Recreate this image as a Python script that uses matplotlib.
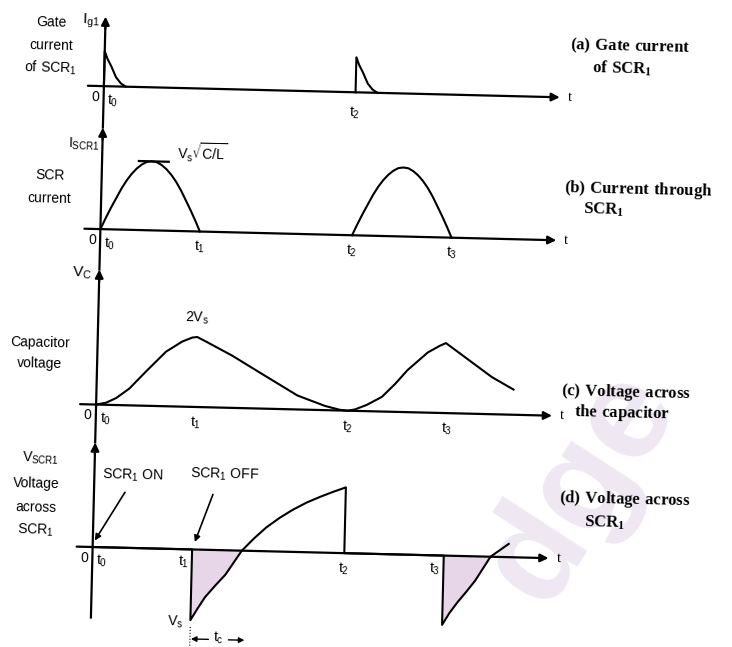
import matplotlib.pyplot as plt
from matplotlib.transforms import Affine2D

# switching instants, in units of the first conduction interval
t_marks = {'t_0': 0.0, 't_1': 1.0, 't_2': 2.53, 't_3': 3.53}

# (a) gate current: decaying pulse after each firing instant
gate_fire = [0.0, 2.53]
gate_dt = [0.0, 0.03, 0.07, 0.12, 0.17, 0.22]
gate_val = [1.0, 0.78, 0.57, 0.26, 0.09, 0.0]

# (b) SCR current: half-sine pulses (t_0..t_1 and t_2..t_3)
pulse_spans = [(0.0, 1.0), (2.53, 3.53)]
pulse_frac = [0, .05, .1, .15, .2, .25, .3, .35, .4, .45, .5,
              .55, .6, .65, .7, .75, .8, .85, .9, .95, 1.0]
pulse_val = [0, .16, .31, .45, .59, .71, .81, .89, .95, .99, 1.0,
             .99, .95, .89, .81, .71, .59, .45, .31, .16, 0]

# (c) capacitor voltage, peaks of 2Vs at t_1 and t_3
vc_t = [0, 0.1, 0.2, 0.33, 0.5, 0.69, 0.85, 0.95, 1.0, 1.1, 1.35, 1.69,
        2.02, 2.3, 2.45, 2.53, 2.6, 2.72, 2.87, 3.0, 3.12, 3.32, 3.44, 3.5,
        3.6, 3.77, 3.97, 4.19]
vc_v = [0, 0.03, 0.1, 0.24, 0.5, 0.78, 0.93, 0.99, 1.0, 0.93, 0.75, 0.47,
        0.2, 0.06, 0.01, 0, 0.02, 0.09, 0.21, 0.4, 0.6, 0.86, 0.96, 1.0,
        0.9, 0.73, 0.53, 0.36]

# (d) voltage across SCR1 (-Vs at turn-off, reverse bias lasts t_c)
vs_t = [0, 1.0, 1.0, 1.07, 1.14, 1.24, 1.34, 1.5, 1.62, 1.74, 1.87, 2.0,
        2.14, 2.28, 2.4, 2.53, 2.53, 3.53, 3.53, 3.6, 3.68, 3.77, 3.85, 4.0,
        4.18]
vs_v = [0, 0, -1.01, -0.84, -0.68, -0.51, -0.35, 0, 0.18, 0.34, 0.48, 0.6,
        0.71, 0.8, 0.87, 0.94, 0, 0, -0.99, -0.82, -0.66, -0.5, -0.35, 0,
        0.19]

# page layout (pixels), the scan is slightly tilted
X0, SX = 98, 99.5
TILT, CX, CY = 1.4, 320, 330
base = {'a': 91.5, 'b': 234.5, 'c': 410, 'd': 552.5}
top = {'a': 22, 'b': 133, 'c': 275, 'd': 448}
gain = {'a': 35, 'b': 69, 'c': 70, 'd': 70}
X_LEFT, X_TIP = 82, 554

sans = ['Liberation Sans Narrow', 'Liberation Sans', 'DejaVu Sans']
serif = ['Liberation Serif', 'DejaVu Serif']

fig = plt.figure(figsize=(7.32, 6.47), dpi=100)
ax = fig.add_axes([0, 0, 1, 1])
ax.set_xlim(0, 732)
ax.set_ylim(647, 0)
ax.axis('off')
tr = Affine2D().rotate_deg_around(CX, CY, TILT) + ax.transData


def px(t):
    return X0 + SX * t


def py(p, v):
    return base[p] - gain[p] * v


def label(x, y, s, size=10, family=sans, **kw):
    kw.setdefault('ha', 'center')
    kw.setdefault('va', 'center')
    ax.text(x, y, s, transform=tr, fontsize=size, family=family,
            rotation=-TILT, rotation_mode='anchor', **kw)


def arrow(x1, y1, x2, y2, lw=1.6, ms=12):
    ax.annotate('', xy=(x2, y2), xytext=(x1, y1), xycoords=tr, textcoords=tr,
                arrowprops=dict(arrowstyle='-|>', color='k', lw=lw,
                                mutation_scale=ms, shrinkA=0, shrinkB=0))


# faint publisher watermark
ax.text(585, 480, 'dge', transform=tr, fontsize=100, fontweight='bold',
        color='#efe8f3', rotation=57, ha='center', va='center', zorder=0,
        family=['Liberation Sans', 'DejaVu Sans'])

# axes of the four panels
order = ['a', 'b', 'c', 'd']
for i, p in enumerate(order):
    bottom = top[order[i + 1]] if i < 3 else 623
    ax.plot([px(0), px(0)], [bottom, top[p] + 10], transform=tr, color='k', lw=1.6)
    arrow(px(0), top[p] + 12, px(0), top[p])
    arrow(X_LEFT, base[p], X_TIP, base[p])
    label(X_TIP + 10, base[p], 't', size=10, family=serif)
    label(px(0) - 4, base[p] + 4, '0', ha='right', va='top')

# (a) gate pulses
for tf in gate_fire:
    xs = [px(tf + d) for d in gate_dt]
    ys = [py('a', v) for v in gate_val]
    ax.plot([xs[0]] + xs, [base['a']] + ys, transform=tr, color='k', lw=1.5)

# (b) SCR current pulses
for ta, tb in pulse_spans:
    xs = [px(ta + f * (tb - ta)) for f in pulse_frac]
    ys = [py('b', v) for v in pulse_val]
    ax.plot(xs, ys, transform=tr, color='k', lw=1.5)
ax.plot([px(0.37), px(0.67)], [py('b', 1.0)] * 2, transform=tr, color='k', lw=1.6)

# (c) capacitor voltage
ax.plot([px(t) for t in vc_t], [py('c', v) for v in vc_v], transform=tr,
        color='k', lw=1.5)

# (d) SCR voltage with shaded reverse-bias intervals
for a, b in [(2, 7), (18, 23)]:
    xs = [px(t) for t in vs_t[a:b + 1]]
    ys = [py('d', v) for v in vs_v[a:b + 1]]
    ax.fill(xs + [xs[0]], ys + [base['d']], transform=tr, color='#e6d6e8',
            lw=0, zorder=1)
ax.plot([px(t) for t in vs_t], [py('d', v) for v in vs_v], transform=tr,
        color='k', lw=1.5, zorder=3)

# time labels under each axis
M = r'$\mathregular{%s}$'
label(px(0) + 4, base['a'] + 6, M % 't_0', ha='left', va='top')
label(px(t_marks['t_2']), base['a'] + 12, M % 't_2', va='top')
label(px(0) + 4, base['b'] + 6, M % 't_0', ha='left', va='top')
for k in ['t_1', 't_2', 't_3']:
    label(px(t_marks[k]), base['b'] + 7, M % k, va='top')
label(px(0) + 4, base['c'] + 6, M % 't_0', ha='left', va='top')
for k in ['t_1', 't_2', 't_3']:
    label(px(t_marks[k]), base['c'] + 8, M % k, va='top')
label(px(0) + 4, base['d'] + 5, M % 't_0', ha='left', va='top')
label(px(t_marks['t_1']) - 3, base['d'] + 5, M % 't_1', ha='right', va='top')
label(px(t_marks['t_2']), base['d'] + 8, M % 't_2', va='top')
label(px(t_marks['t_3']) - 3, base['d'] + 5, M % 't_3', ha='right', va='top')

# left-hand quantity names
label(92, 27, M % 'I_{g1}', size=11, ha='right')
for y, s in [(29, 'Gate'), (52, 'current'), (75, M % 'of\\ SCR_1')]:
    label(44, y, s)
label(95, 150, M % 'I_{SCR1}', size=10, ha='right')
for y, s in [(182, 'SCR'), (205, 'current')]:
    label(46, y, s)
label(90, 279, M % 'V_C', size=11, ha='right')
for y, s in [(350, 'Capacitor'), (370, 'voltage')]:
    label(41, y, s)
label(62, 465, M % 'V_{SCR1}', size=10, ha='right')
for y, s in [(490, 'Voltage'), (514, 'across'), (537, M % 'SCR_1')]:
    label(40, y, s)

# annotations on the waveforms
label(198, 156, M % 'V_s\\sqrt{C/L}', size=10)
label(197, 321, M % '2V_s', size=10)
label(182, 625, M % 'V_s', size=10)
label(137, 480, M % 'SCR_1\\ ON', size=10)
arrow(129, 497, 100, 546, lw=1.2, ms=9)
label(228, 477, M % 'SCR_1\\ OFF', size=10)
arrow(217, 497, 200, 545, lw=1.2, ms=9)
ax.plot([px(1.0), px(1.0)], [630, 650], transform=tr, color='k', lw=0.8, ls=':')
arrow(216, 642, px(1.0) + 1, 642, lw=1.0, ms=8)
arrow(236, 642, 252, 642, lw=1.0, ms=8)
label(226, 640, M % 't_c', size=10)

# captions on the right
cap = dict(size=12, family=serif, fontweight='bold', ha='left')
label(563, 39, M % '(a)\\ Gate\\ current', **cap)
label(586, 61, M % 'of\\ SCR_1', **cap)
label(561, 182, M % '(b)\\ Current\\ through', **cap)
label(580, 203, M % 'SCR_1', **cap)
label(563, 385, M % '(c)\\ Voltage\\ across', **cap)
label(576, 406, M % 'the\\ capacitor', **cap)
label(563, 492, M % '(d)\\ Voltage\\ across', **cap)
label(589, 516, M % 'SCR_1', **cap)

fig.savefig('out.png', dpi=100)
